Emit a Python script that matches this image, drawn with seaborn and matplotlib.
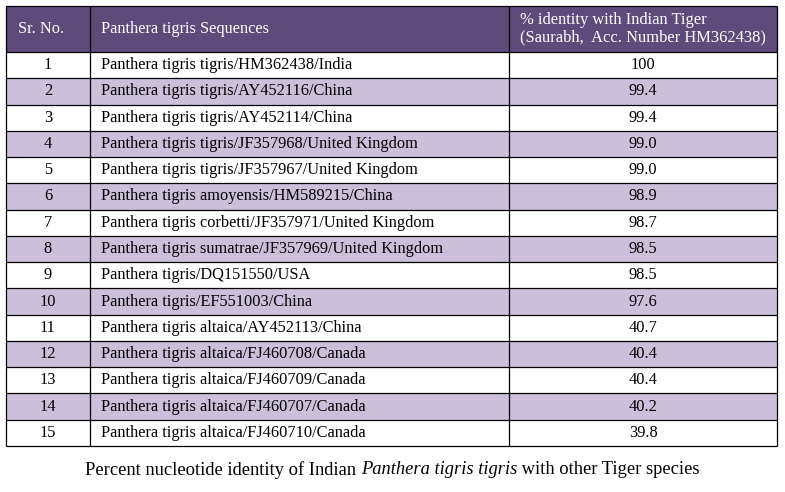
import pandas as pd
import seaborn as sns
import matplotlib
matplotlib.use("Agg")
import matplotlib.pyplot as plt
from matplotlib.colors import ListedColormap
from matplotlib.patches import Rectangle

# table data
sr_no = list(range(1, 16))
sequences = [
    "Panthera tigris tigris/HM362438/India",
    "Panthera tigris tigris/AY452116/China",
    "Panthera tigris tigris/AY452114/China",
    "Panthera tigris tigris/JF357968/United Kingdom",
    "Panthera tigris tigris/JF357967/United Kingdom",
    "Panthera tigris amoyensis/HM589215/China",
    "Panthera tigris corbetti/JF357971/United Kingdom",
    "Panthera tigris sumatrae/JF357969/United Kingdom",
    "Panthera tigris/DQ151550/USA",
    "Panthera tigris/EF551003/China",
    "Panthera tigris altaica/AY452113/China",
    "Panthera tigris altaica/FJ460708/Canada",
    "Panthera tigris altaica/FJ460709/Canada",
    "Panthera tigris altaica/FJ460707/Canada",
    "Panthera tigris altaica/FJ460710/Canada",
]
identity = ["100", "99.4", "99.4", "99.0", "99.0", "98.9", "98.7", "98.5",
            "98.5", "97.6", "40.7", "40.4", "40.4", "40.2", "39.8"]
headers = ["Sr. No.", "Panthera tigris Sequences",
           "% identity with Indian Tiger\n(Saurabh,  Acc. Number HM362438)"]
caption_parts = ["Percent nucleotide identity of Indian ",
                 "Panthera tigris tigris", " with other Tiger species"]

HEAD_COLOR = "#5e4a7b"
SHADE_COLOR = "#cbbfda"

# layout in pixels
W, H = 785, 492
left, right = 6, 777
top, head_bot, bottom = 6, 52, 446
col_edges = [left, 90, 509, right]
row_h = (bottom - head_bot) / len(sr_no)

sns.set_theme(style="white")
plt.rcParams['font.family'] = ['Liberation Serif', 'DejaVu Serif']
plt.rcParams['text.color'] = 'black'

fig = plt.figure(figsize=(W / 100, H / 100), dpi=100)

# row shading as a one-column heatmap
body = fig.add_axes([left / W, 1 - bottom / H, (right - left) / W, (bottom - head_bot) / H])
shade = pd.DataFrame({"shade": [i % 2 for i in range(len(sr_no))]}, index=sr_no)
sns.heatmap(shade, ax=body, cmap=ListedColormap(["white", SHADE_COLOR]), cbar=False,
            linewidths=0, xticklabels=False, yticklabels=False, vmin=0, vmax=1)
body.set_xlabel("")
body.set_ylabel("")

# overlay for header, grid lines and text
ax = fig.add_axes([0, 0, 1, 1])
ax.set_xlim(0, W)
ax.set_ylim(H, 0)
ax.axis("off")
ax.patch.set_alpha(0)

ax.add_patch(Rectangle((left, top), right - left, head_bot - top, color=HEAD_COLOR, lw=0))

lw = 0.9
row_lines = [top, head_bot] + [head_bot + (i + 1) * row_h for i in range(len(sr_no))]
for y in row_lines:
    ax.plot([left, right], [y, y], color="black", lw=lw, solid_capstyle="butt")
for x in col_edges:
    ax.plot([x, x], [top, bottom], color="black", lw=lw, solid_capstyle="butt")

fs = 11.8
head_y = (top + head_bot) / 2
ax.text(18, head_y, headers[0], color="white", fontsize=fs, va="center", ha="left")
ax.text(101, head_y, headers[1], color="white", fontsize=fs, va="center", ha="left")
ax.text(520, head_y, headers[2], color="white", fontsize=11.9, va="center", ha="left",
        linespacing=1.1)

for i, (n, seq, val) in enumerate(zip(sr_no, sequences, identity)):
    y = head_bot + (i + 0.5) * row_h
    ax.text((col_edges[0] + col_edges[1]) / 2, y, str(n), fontsize=fs, va="center", ha="center")
    ax.text(101, y, seq, fontsize=fs, va="center", ha="left")
    ax.text((col_edges[2] + col_edges[3]) / 2, y, val, fontsize=fs, va="center", ha="center")

# caption with italic species name, pieces placed side by side
renderer = fig.canvas.get_renderer()
styles = ["normal", "italic", "normal"]
cap_fs = 13.3
pieces = []
for txt, st in zip(caption_parts, styles):
    t = ax.text(0, 470, txt, fontsize=cap_fs, style=st, va="center", ha="left")
    pieces.append(t)
widths = [p.get_window_extent(renderer).width for p in pieces]
x = (W - sum(widths)) / 2
for p, w in zip(pieces, widths):
    p.set_x(x)
    x += w

fig.savefig("out.png", dpi=100)
